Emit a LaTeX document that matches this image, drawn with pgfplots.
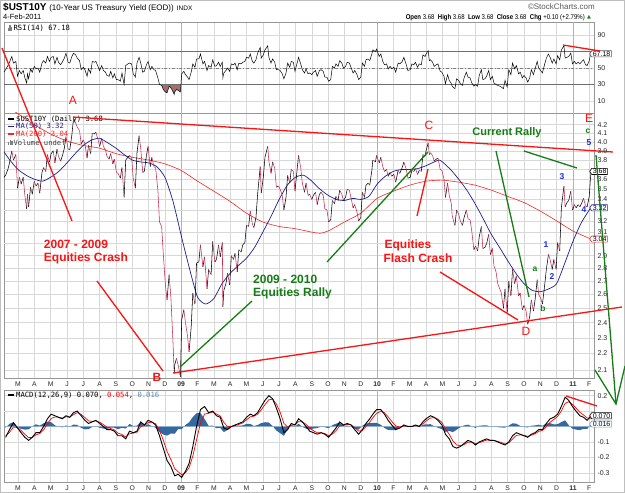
\documentclass[border=0pt]{standalone}
\usepackage{fontspec}
\setmainfont{Liberation Sans}
\newfontfamily\legfont{DejaVu Sans Mono}
\newfontfamily\symfont{DejaVu Sans}
\usepackage{pgfplots}
\pgfplotsset{compat=1.18}
\usepackage{pgfplotstable}
\usetikzlibrary{shapes.symbols}

\definecolor{pxred}{RGB}{200,40,80}
\definecolor{ma50c}{RGB}{30,30,140}
\definecolor{ma200c}{RGB}{240,40,40}
\definecolor{annred}{RGB}{250,20,20}
\definecolor{anngreen}{RGB}{20,125,20}
\definecolor{annblue}{RGB}{25,45,235}
\definecolor{gridc}{RGB}{216,216,216}
\definecolor{framec}{RGB}{150,150,150}
\definecolor{rsiref}{RGB}{110,110,110}
\definecolor{rsishade}{RGB}{165,110,110}
\definecolor{histc}{RGB}{52,104,160}
\definecolor{labc}{RGB}{40,40,40}

% 10-year yield, twice-weekly closes; d = 1 when the next move is down
\pgfplotstableread{
m y d
-0.86 3.62 0
-0.76 3.64 0
-0.62 3.70 0
-0.52 3.77 0
-0.38 3.90 1
-0.28 3.80 0
-0.13 3.86 1
-0.03 3.51 0
0.09 3.62 1
0.19 3.55 0
0.32 3.62 1
0.42 3.44 1
0.53 3.31 0
0.58 3.45 1
0.65 3.33 0
0.77 3.52 1
0.87 3.45 0
1.00 3.58 1
1.10 3.53 0
1.23 3.56 1
1.33 3.46 0
1.47 3.67 0
1.57 3.72 1
1.70 3.68 0
1.80 3.86 1
1.93 3.78 0
2.03 3.87 0
2.16 3.90 1
2.26 3.77 0
2.39 3.92 1
2.48 3.84 1
2.61 3.79 0
2.71 3.84 0
2.84 3.93 0
2.94 4.06 1
3.07 3.92 1
3.17 3.91 0
3.30 4.08 0
3.40 4.27 1
3.53 4.22 1
3.63 4.17 1
3.77 4.13 1
3.87 3.98 0
4.00 4.02 1
4.10 3.98 1
4.23 3.82 0
4.32 3.96 1
4.45 3.87 0
4.55 4.10 1
4.68 4.09 0
4.77 4.11 1
4.90 4.03 1
5.00 3.95 0
5.13 4.04 1
5.23 3.95 1
5.36 3.91 1
5.45 3.84 1
5.58 3.81 0
5.68 3.87 1
5.81 3.76 0
5.90 3.81 1
6.03 3.67 1
6.13 3.66 1
6.27 3.61 0
6.37 3.72 1
6.50 3.42 0
6.60 3.80 0
6.73 3.83 0
6.83 3.85 1
6.96 3.83 1
7.06 3.61 1
7.19 3.51 0
7.29 3.88 0
7.42 4.07 1
7.52 3.93 1
7.64 3.67 0
7.74 3.68 0
7.87 3.85 0
7.97 3.95 1
8.10 3.73 0
8.20 3.83 1
8.33 3.73 1
8.43 3.72 1
8.57 3.49 1
8.67 3.19 1
8.80 3.15 1
8.90 2.92 1
9.03 2.67 1
9.13 2.56 0
9.26 2.75 1
9.37 2.57 1
9.50 2.26 1
9.57 2.08 0
9.60 2.13 0
9.71 2.17 1
9.81 2.13 1
9.95 2.06 0
10.03 2.42 0
10.16 2.49 1
10.26 2.40 1
10.39 2.31 1
10.48 2.21 0
10.61 2.37 0
10.71 2.61 1
10.84 2.53 0
10.94 2.84 0
11.08 2.85 0
11.18 2.99 1
11.33 2.81 0
11.43 2.89 1
11.58 2.64 0
11.68 2.79 1
11.83 2.75 0
11.93 3.02 1
12.06 2.85 0
12.16 2.87 0
12.29 2.99 1
12.39 2.89 0
12.52 3.01 1
12.55 2.51 0
12.61 2.63 0
12.74 2.68 0
12.84 2.76 1
12.97 2.67 0
13.07 2.90 1
13.20 2.87 0
13.30 2.92 1
13.43 2.77 0
13.53 2.95 1
13.67 2.93 0
13.77 2.99 0
13.90 3.01 0
14.00 3.16 1
14.13 3.15 0
14.23 3.29 1
14.36 3.17 1
14.45 3.14 0
14.58 3.23 0
14.68 3.45 0
14.84 3.73 1
14.90 3.46 0
15.03 3.62 0
15.13 3.83 0
15.30 3.95 1
15.37 3.79 1
15.50 3.66 0
15.60 3.78 1
15.73 3.71 1
15.83 3.52 0
15.96 3.53 1
16.06 3.50 1
16.19 3.44 1
16.29 3.30 0
16.42 3.42 0
16.52 3.64 1
16.65 3.56 0
16.74 3.70 1
16.87 3.68 1
16.97 3.48 0
17.10 3.70 0
17.19 3.85 1
17.32 3.72 1
17.42 3.56 1
17.55 3.47 0
17.65 3.56 1
17.77 3.44 0
17.87 3.45 1
18.00 3.40 0
18.10 3.44 0
18.23 3.47 1
18.33 3.35 0
18.47 3.45 0
18.57 3.47 1
18.70 3.44 1
18.80 3.31 1
18.93 3.30 1
19.03 3.19 0
19.16 3.21 0
19.26 3.39 1
19.39 3.36 0
19.48 3.43 1
19.61 3.39 0
19.71 3.49 1
19.84 3.45 1
19.94 3.39 0
20.07 3.42 0
20.17 3.50 1
20.30 3.49 1
20.40 3.42 1
20.53 3.32 0
20.63 3.35 1
20.77 3.28 1
20.87 3.20 0
21.00 3.23 0
21.10 3.47 1
21.23 3.42 0
21.32 3.54 0
21.45 3.56 1
21.55 3.54 0
21.68 3.69 0
21.74 3.80 1
21.90 3.78 0
21.97 3.85 1
22.13 3.77 0
22.23 3.83 1
22.35 3.73 1
22.45 3.68 0
22.58 3.70 1
22.68 3.63 0
22.80 3.67 1
22.90 3.63 0
23.03 3.65 1
23.14 3.57 0
23.29 3.69 1
23.39 3.66 0
23.54 3.72 0
23.64 3.78 1
23.79 3.70 1
23.89 3.61 0
24.03 3.62 0
24.13 3.69 1
24.25 3.68 0
24.35 3.71 1
24.48 3.65 0
24.58 3.69 1
24.71 3.68 0
24.81 3.86 1
24.94 3.84 0
25.00 3.90 0
25.13 3.99 1
25.20 3.86 0
25.27 3.88 1
25.40 3.85 1
25.50 3.79 0
25.63 3.81 0
25.73 3.82 1
25.87 3.70 1
25.97 3.69 1
26.10 3.60 1
26.19 3.42 0
26.32 3.56 1
26.42 3.44 1
26.55 3.36 1
26.60 3.25 1
26.70 3.19 1
26.77 3.16 0
26.87 3.30 1
27.00 3.26 1
27.10 3.20 1
27.23 3.16 0
27.33 3.23 0
27.47 3.30 1
27.57 3.22 1
27.70 3.21 1
27.80 3.11 1
27.93 2.95 0
28.03 2.98 1
28.16 2.94 0
28.26 3.06 0
28.39 3.15 1
28.48 2.96 0
28.61 2.97 0
28.71 3.00 0
28.84 3.08 1
28.94 2.91 0
29.06 2.96 1
29.16 2.82 1
29.29 2.77 1
29.39 2.68 1
29.52 2.64 1
29.61 2.61 1
29.74 2.50 0
29.84 2.64 1
29.97 2.47 0
30.07 2.70 1
30.20 2.59 0
30.30 2.79 1
30.43 2.68 0
30.53 2.74 1
30.67 2.59 0
30.77 2.61 1
30.90 2.49 0
31.00 2.52 1
31.13 2.48 1
31.23 2.39 0
31.35 2.44 0
31.45 2.56 1
31.58 2.48 0
31.68 2.56 0
31.81 2.71 1
31.90 2.60 1
32.03 2.57 1
32.13 2.53 0
32.27 2.67 0
32.37 2.79 0
32.50 2.91 1
32.60 2.87 1
32.73 2.79 0
32.83 2.87 1
32.97 2.79 0
33.06 3.01 1
33.19 2.94 0
33.29 3.32 0
33.45 3.53 1
33.52 3.33 0
33.64 3.37 0
33.74 3.39 0
33.87 3.48 1
33.97 3.30 0
34.10 3.35 1
34.19 3.32 0
34.32 3.35 1
34.42 3.33 0
34.55 3.37 0
34.65 3.41 1
34.77 3.34 1
34.87 3.33 0
35.00 3.43 0
35.06 3.58 0
35.11 3.68 0
}\pricetab

% RSI(14)
\pgfplotstableread{
m r
-0.86 45
-0.76 48
-0.62 53
-0.52 57
-0.38 64
-0.28 56
-0.13 58
-0.03 40
0.09 47
0.19 43
0.32 47
0.42 38
0.53 32
0.58 43
0.65 37
0.77 49
0.87 45
1.00 52
1.10 49
1.23 50
1.33 45
1.47 56
1.57 59
1.70 56
1.80 64
1.93 58
2.03 63
2.16 64
2.26 55
2.39 63
2.48 57
2.61 54
2.71 57
2.84 62
2.94 68
3.07 57
3.17 56
3.30 64
3.40 68
3.53 66
3.63 62
3.77 59
3.87 48
4.00 51
4.10 48
4.23 40
4.32 49
4.45 44
4.55 58
4.68 57
4.77 58
4.90 52
5.00 47
5.13 53
5.23 47
5.36 45
5.45 41
5.58 40
5.68 46
5.81 38
5.90 43
6.03 36
6.13 36
6.27 34
6.37 44
6.50 30
6.60 53
6.73 55
6.83 56
6.96 55
7.06 43
7.19 39
7.29 56
7.42 63
7.52 56
7.64 45
7.74 46
7.87 54
7.97 58
8.10 48
8.20 52
8.33 48
8.43 47
8.57 38
8.67 30
8.80 29
8.90 24
9.03 21
9.13 20
9.26 28
9.37 26
9.50 21
9.57 18
9.60 21
9.71 24
9.81 23
9.95 21
10.03 43
10.16 46
10.26 42
10.39 39
10.48 36
10.61 45
10.71 55
10.84 51
10.94 61
11.08 61
11.18 67
11.33 55
11.43 58
11.58 47
11.68 53
11.83 51
11.93 60
12.06 52
12.16 53
12.29 57
12.39 52
12.52 57
12.55 38
12.61 44
12.74 47
12.84 50
12.97 46
13.07 55
13.20 54
13.30 56
13.43 48
13.53 56
13.67 55
13.77 57
13.90 58
14.00 63
14.13 62
14.23 67
14.36 58
14.45 56
14.58 60
14.68 68
14.84 75
14.90 62
15.03 66
15.13 72
15.30 77
15.37 63
15.50 56
15.60 61
15.73 57
15.83 48
15.96 48
16.06 47
16.19 43
16.29 37
16.42 44
16.52 56
16.65 51
16.74 58
16.87 57
16.97 46
17.10 56
17.19 63
17.32 55
17.42 48
17.55 44
17.65 49
17.77 43
17.87 44
18.00 42
18.10 45
18.23 47
18.33 40
18.47 47
18.57 48
18.70 46
18.80 39
18.93 39
19.03 34
19.16 36
19.26 52
19.39 50
19.48 55
19.61 52
19.71 59
19.84 56
19.94 50
20.07 52
20.17 57
20.30 56
20.40 51
20.53 44
20.63 47
20.77 42
20.87 36
21.00 39
21.10 56
21.23 52
21.32 60
21.45 61
21.55 59
21.68 67
21.74 72
21.90 70
21.97 73
22.13 64
22.23 67
22.35 58
22.45 54
22.58 55
22.68 49
22.80 52
22.90 49
23.03 51
23.14 45
23.29 56
23.39 55
23.54 58
23.64 63
23.79 54
23.89 47
24.03 48
24.13 55
24.25 54
24.35 57
24.48 51
24.58 55
24.71 54
24.81 66
24.94 64
25.00 67
25.13 71
25.20 59
25.27 60
25.40 57
25.50 52
25.63 54
25.73 55
25.87 46
25.97 45
26.10 40
26.19 31
26.32 42
26.42 35
26.55 31
26.60 28
26.70 26
26.77 25
26.87 37
27.00 35
27.10 31
27.23 29
27.33 38
27.47 45
27.57 39
27.70 38
27.80 32
27.93 28
28.03 30
28.16 28
28.26 41
28.39 48
28.48 36
28.61 37
28.71 40
28.84 47
28.94 36
29.06 40
29.16 32
29.29 30
29.39 29
29.52 28
29.61 27
29.74 25
29.84 35
29.97 27
30.07 48
30.20 42
30.30 56
30.43 49
30.53 53
30.67 43
30.77 45
30.90 38
31.00 41
31.13 38
31.23 33
31.35 38
31.45 48
31.58 42
31.68 49
31.81 58
31.90 50
32.03 47
32.13 44
32.27 55
32.37 62
32.50 67
32.60 63
32.73 56
32.83 61
32.97 55
33.06 65
33.19 60
33.29 72
33.45 77
33.52 62
33.64 63
33.74 64
33.87 68
33.97 55
34.10 58
34.19 55
34.32 57
34.42 55
34.55 58
34.65 60
34.77 54
34.87 53
35.00 59
35.06 65
35.11 67.18
}\rsitab

% MACD(12,26,9), weekly: MACD line, signal line, histogram
\pgfplotstableread{
m macd sig hist
-0.76 -0.070 -0.061 -0.009
-0.52 -0.020 -0.038 0.018
-0.28 0.025 -0.003 0.028
-0.03 -0.010 -0.007 -0.003
0.19 -0.040 -0.025 -0.015
0.42 -0.070 -0.050 -0.020
0.65 -0.090 -0.072 -0.018
0.87 -0.070 -0.071 0.001
1.10 -0.040 -0.054 0.014
1.33 -0.040 -0.046 0.006
1.57 0.000 -0.021 0.021
1.80 0.050 0.018 0.032
2.03 0.080 0.052 0.028
2.26 0.070 0.062 0.008
2.48 0.060 0.061 -0.001
2.71 0.050 0.055 -0.005
2.94 0.070 0.063 0.007
3.17 0.060 0.061 -0.001
3.40 0.090 0.077 0.013
3.63 0.100 0.090 0.010
3.87 0.070 0.079 -0.009
4.10 0.040 0.058 -0.018
4.32 0.020 0.037 -0.017
4.55 0.030 0.033 -0.003
4.77 0.040 0.037 0.003
5.00 0.020 0.028 -0.008
5.23 0.000 0.013 -0.013
5.45 -0.020 -0.005 -0.015
5.68 -0.020 -0.013 -0.007
5.90 -0.030 -0.022 -0.008
6.13 -0.060 -0.043 -0.017
6.37 -0.060 -0.052 -0.008
6.60 -0.080 -0.067 -0.013
6.83 -0.030 -0.047 0.017
7.06 -0.040 -0.043 0.003
7.29 -0.030 -0.036 0.006
7.52 0.030 0.000 0.030
7.74 0.010 0.006 0.004
7.97 0.040 0.025 0.015
8.20 0.030 0.028 0.002
8.43 0.010 0.018 -0.008
8.67 -0.060 -0.025 -0.035
8.90 -0.140 -0.088 -0.052
9.13 -0.220 -0.161 -0.059
9.37 -0.260 -0.215 -0.045
9.60 -0.320 -0.273 -0.047
9.81 -0.310 -0.293 -0.017
10.03 -0.330 -0.313 -0.017
10.26 -0.290 -0.300 0.010
10.48 -0.240 -0.267 0.027
10.71 -0.130 -0.192 0.062
10.94 0.000 -0.086 0.086
11.18 0.110 0.022 0.088
11.43 0.130 0.081 0.049
11.68 0.090 0.086 0.004
11.93 0.100 0.094 0.006
12.16 0.070 0.081 -0.011
12.39 0.060 0.069 -0.009
12.61 -0.010 0.026 -0.036
12.84 -0.020 0.001 -0.021
13.07 0.000 0.000 0.000
13.30 0.010 0.006 0.004
13.53 0.020 0.014 0.006
13.77 0.030 0.023 0.007
14.00 0.060 0.043 0.017
14.23 0.080 0.063 0.017
14.45 0.070 0.067 0.003
14.68 0.090 0.080 0.010
14.90 0.130 0.108 0.022
15.13 0.170 0.142 0.028
15.37 0.200 0.174 0.026
15.60 0.180 0.177 0.003
15.83 0.120 0.146 -0.026
16.06 0.050 0.093 -0.043
16.29 -0.040 0.020 -0.060
16.52 -0.020 -0.002 -0.018
16.74 0.020 0.010 0.010
16.97 0.010 0.010 0.000
17.19 0.050 0.032 0.018
17.42 0.030 0.031 -0.001
17.65 0.000 0.014 -0.014
17.87 -0.030 -0.010 -0.020
18.10 -0.040 -0.027 -0.013
18.33 -0.050 -0.040 -0.010
18.57 -0.040 -0.040 0.000
18.80 -0.050 -0.046 -0.004
19.03 -0.070 -0.059 -0.011
19.26 -0.040 -0.049 0.009
19.48 -0.010 -0.028 0.018
19.71 0.030 0.004 0.026
19.94 0.010 0.007 0.003
20.17 0.020 0.014 0.006
20.40 0.010 0.012 -0.002
20.63 -0.020 -0.006 -0.014
20.87 -0.050 -0.030 -0.020
21.10 -0.020 -0.025 0.005
21.32 0.020 0.000 0.020
21.55 0.050 0.028 0.022
21.74 0.080 0.057 0.023
21.97 0.110 0.086 0.024
22.23 0.110 0.099 0.011
22.45 0.080 0.089 -0.009
22.68 0.040 0.062 -0.022
22.90 0.010 0.033 -0.023
23.14 -0.020 0.004 -0.024
23.39 -0.010 -0.004 -0.006
23.64 0.010 0.004 0.006
23.89 0.000 0.002 -0.002
24.13 0.000 0.001 -0.001
24.35 0.010 0.006 0.004
24.58 0.000 0.003 -0.003
24.81 0.030 0.018 0.012
25.00 0.050 0.036 0.014
25.27 0.070 0.055 0.015
25.50 0.060 0.058 0.002
25.73 0.040 0.048 -0.008
25.97 0.010 0.027 -0.017
26.19 -0.050 -0.015 -0.035
26.42 -0.080 -0.051 -0.029
26.65 -0.130 -0.094 -0.036
26.87 -0.140 -0.119 -0.021
27.10 -0.130 -0.125 -0.005
27.33 -0.110 -0.117 0.007
27.57 -0.090 -0.102 0.012
27.80 -0.100 -0.101 0.001
28.03 -0.120 -0.111 -0.009
28.26 -0.100 -0.105 0.005
28.48 -0.090 -0.097 0.007
28.71 -0.080 -0.088 0.008
28.94 -0.090 -0.089 -0.001
29.16 -0.090 -0.090 0.000
29.39 -0.100 -0.096 -0.004
29.61 -0.110 -0.104 -0.006
29.84 -0.120 -0.113 -0.007
30.07 -0.100 -0.106 0.006
30.30 -0.060 -0.081 0.021
30.53 -0.040 -0.058 0.018
30.77 -0.050 -0.054 0.004
31.00 -0.060 -0.057 -0.003
31.23 -0.070 -0.064 -0.006
31.45 -0.050 -0.056 0.006
31.68 -0.040 -0.047 0.007
31.90 -0.020 -0.032 0.012
32.13 -0.020 -0.025 0.005
32.37 0.020 0.000 0.020
32.60 0.050 0.028 0.022
32.83 0.060 0.046 0.014
33.06 0.080 0.065 0.015
33.29 0.130 0.101 0.029
33.52 0.190 0.150 0.040
33.74 0.170 0.161 0.009
33.97 0.130 0.144 -0.014
34.19 0.100 0.120 -0.020
34.42 0.070 0.093 -0.023
34.65 0.060 0.075 -0.015
34.87 0.040 0.056 -0.016
35.11 0.070 0.054 0.016
}\macdtab

% 50-day moving average
\pgfplotstableread{
m v
-0.90 3.90
-0.50 3.80
0.00 3.70
0.50 3.64
1.00 3.60
1.50 3.58
2.00 3.62
2.50 3.68
3.00 3.77
3.50 3.87
4.00 3.96
4.50 4.02
5.00 4.04
5.50 3.99
6.00 3.93
6.50 3.86
7.00 3.80
7.50 3.78
8.00 3.77
8.50 3.73
9.00 3.62
9.50 3.38
10.00 3.07
10.50 2.80
11.00 2.58
11.50 2.53
12.00 2.57
12.50 2.68
13.00 2.76
13.50 2.82
14.00 2.88
14.50 2.97
15.00 3.10
15.50 3.24
16.00 3.40
16.50 3.54
17.00 3.62
17.50 3.64
18.00 3.58
18.50 3.50
19.00 3.44
19.50 3.40
20.00 3.39
20.50 3.41
21.00 3.40
21.50 3.43
22.00 3.55
22.50 3.63
23.00 3.68
23.50 3.70
24.00 3.70
24.50 3.71
25.00 3.74
25.50 3.78
25.80 3.80
26.00 3.78
26.50 3.70
27.00 3.60
27.50 3.49
28.00 3.36
28.50 3.22
29.00 3.08
29.50 2.97
30.00 2.86
30.50 2.76
31.00 2.68
31.50 2.63
32.00 2.62
32.50 2.64
33.00 2.68
33.50 2.84
34.00 3.02
34.50 3.18
35.00 3.30
35.11 3.32
}\mafifty

% 200-day moving average
\pgfplotstableread{
m v
-0.90 4.46
0 4.33
1 4.20
2 4.09
3 4.01
4 3.96
5 3.93
6 3.87
7 3.83
8 3.80
9 3.76
10 3.69
11 3.58
12 3.48
13 3.38
14 3.27
15 3.19
16 3.15
17 3.13
18 3.10
18.5 3.09
19 3.11
20 3.19
21 3.27
22 3.41
23 3.48
24 3.54
25 3.58
26 3.59
27 3.57
28 3.54
29 3.49
30 3.43
31 3.37
32 3.29
33 3.20
34 3.11
35.11 3.04
}\matwohundred

\newcommand\annfont{\fontsize{12}{13}\selectfont\bfseries}
\newcommand\letfont{\fontsize{12}{13}\selectfont}
\newcommand\wavefont{\fontsize{8.5}{9}\selectfont\bfseries}
\newcommand\legsz{\legfont\fontsize{7.2}{7.5}\selectfont}

\tikzset{valbox/.style={signal, signal to=west, signal pointer angle=110,
  draw=#1, fill=white, line width=0.6pt, inner xsep=1pt, inner ysep=0.6pt,
  font=\fontsize{7}{7}\selectfont, anchor=west, text=black}}

\pgfplotsset{
  panel/.style={scale only axis, width=590pt, anchor=north west,
    xmin=-0.858, xmax=35.29,
    axis line style={draw=framec, line width=0.6pt},
    grid=major, major grid style={draw=gridc, line width=0.45pt},
    major tick length=0pt, xtick={0,...,35},
    extra x ticks={10,22,34}, extra x tick labels={},
    extra x tick style={grid=major, major grid style={draw=gray!60, line width=0.6pt}},
    extra y tick labels={},
    extra y tick style={grid=major, major grid style={draw=gridc, line width=0.45pt}},
    yticklabel pos=right,
    y tick label style={font=\fontsize{7}{8}\selectfont\color{labc}, anchor=west},
    clip mode=individual,
    /pgf/number format/assume math mode=true},
  months/.style={xticklabels={M,A,M,J,J,A,S,O,N,D,\textbf{09},F,M,A,M,J,J,A,S,O,N,D,\textbf{10},F,M,A,M,J,J,A,S,O,N,D,\textbf{11},F},
    x tick label style={font=\fontsize{6.8}{7}\selectfont\color{labc}, anchor=base, yshift=#1}},
}

\begin{document}
\begin{tikzpicture}
\useasboundingbox (0pt,0pt) rectangle (625pt,-493pt);
\draw[gray!50, line width=0.6pt] (0.3pt,-0.3pt) rectangle (624.7pt,-492.7pt);

% ---------------- RSI panel ----------------
\begin{axis}[panel, at={(4pt,-22pt)}, height=91pt,
  ymin=-4.5, ymax=105.8, ytick={10,30,50,90}, extra y ticks={70}, xticklabels={}]
% oversold stretch below 30, late 2008
\addplot[fill=rsishade, draw=none] coordinates {(8.69,30) (8.80,29) (8.90,24) (9.03,21) (9.13,20) (9.26,28) (9.37,26) (9.50,21) (9.57,18) (9.60,21) (9.71,24) (9.81,23) (9.95,21) (9.98,30)} -- cycle;
\addplot[draw=rsiref, line width=0.6pt] coordinates {(-1,30) (36,30)};
\addplot[draw=rsiref, line width=0.6pt] coordinates {(-1,70) (36,70)};
\addplot[draw=gray, dash dot, line width=0.5pt] coordinates {(-1,50) (36,50)};
\addplot[black, line width=0.5pt] table[x=m, y=r] {\rsitab};
\node[valbox=gray!70!black] at (axis cs:35.0,67.18) {67.18};
\end{axis}

% ---------------- price panel ----------------
\begin{axis}[panel, months=-9pt, at={(4pt,-113pt)}, height=265pt,
  ymode=log, ymin=2.053, ymax=4.34,
  ytick={2.1,2.2,2.3,2.4,2.5,2.6,2.7,2.8,2.9,3.1,3.2,3.4,3.5,3.6,3.8,3.9,4.0,4.1,4.2},
  extra y ticks={3.0,3.3,3.7},
  yticklabel={\pgfmathparse{exp(\tick)}\pgfmathprintnumber[fixed,fixed zerofill,precision=1]{\pgfmathresult}}]
\addplot[ma200c, line width=0.6pt, smooth, tension=0.4] table[x=m, y=v] {\matwohundred};
\addplot[ma50c, line width=0.7pt, smooth, tension=0.4] table[x=m, y=v] {\mafifty};
\addplot[mesh, shader=flat corner, point meta=explicit,
  colormap={updown}{color=(black) color=(pxred)},
  point meta min=0, point meta max=1, line width=0.55pt]
  table[x=m, y=y, meta=d] {\pricetab};
\node[valbox=black] at (axis cs:35.0,3.68) {3.68};
\node[valbox=ma50c] at (axis cs:35.0,3.32) {3.32};
\node[valbox=ma200c] at (axis cs:35.0,3.04) {3.04};
\end{axis}

% ---------------- MACD panel ----------------
\begin{axis}[panel, months=-8.5pt, at={(4pt,-390pt)}, height=92pt,
  ymin=-0.36, ymax=0.237, ytick={-0.3,-0.2,-0.1,0.2}, extra y ticks={0,0.1},
  yticklabel={\pgfmathprintnumber[fixed,fixed zerofill,precision=1]{\tick}}]
\addplot[fill=histc, draw=none] table[x=m, y=hist] {\macdtab} \closedcycle;
\addplot[histc!55, line width=0.5pt] coordinates {(-1,0) (36,0)};
\addplot[red, line width=0.7pt] table[x=m, y=sig] {\macdtab};
\addplot[black, line width=0.9pt] table[x=m, y=macd] {\macdtab};
\node[valbox=black] at (axis cs:35.0,0.070) {0.070};
\node[valbox=histc!70] at (axis cs:35.0,0.016) {0.016};
\end{axis}

% ---------------- header, legends and annotations (pixel frame) ----------------
\begin{axis}[at={(0pt,0pt)}, anchor=north west, scale only axis,
  width=625pt, height=493pt, xmin=0, xmax=625, ymin=0, ymax=493,
  y dir=reverse, hide axis, clip=false]
% header
\node[anchor=base west, inner sep=0] at (axis cs:3,10.8)
  {{\fontsize{10}{10}\selectfont\bfseries \$UST10Y} {\fontsize{8}{8}\selectfont (10-Year US Treasury Yield (EOD))}\hspace{3pt}{\fontsize{6.5}{7}\selectfont INDX}};
\node[anchor=base west, inner sep=0] at (axis cs:3,19.8) {\fontsize{7.5}{8}\selectfont 4-Feb-2011};
\node[anchor=base east, inner sep=0, text=black!65] at (axis cs:595,9) {\fontsize{8}{8}\selectfont \textcopyright StockCharts.com};
\node[anchor=base east, inner sep=0] at (axis cs:585,19) {\scalebox{0.86}[1]{\fontsize{7}{8}\selectfont
  \textbf{Open} 3.68\ \ \textbf{High} 3.68\ \ \textbf{Low} 3.68\ \ \textbf{Close} 3.68\ \ \textbf{Chg} +0.10 (+2.79\%)}};
\node[anchor=base west, inner sep=0, text=anngreen] at (axis cs:587,18) {\symfont\fontsize{5}{5}\selectfont ▲};

% panel legends
\node[anchor=west, inner sep=0] at (axis cs:8,28.5)
  {\textcolor{gray}{\rule{1.3pt}{3pt}\rule{1.3pt}{5.5pt}\rule{1.3pt}{4pt}}\hspace{1.5pt}\legsz RSI(14) 67.18};
\node[anchor=west, inner sep=0] at (axis cs:8,119.5) {\rule[2pt]{6pt}{1.1pt}\hspace{2pt}\legsz \$UST10Y (Daily) 3.68};
\node[anchor=west, inner sep=0, text=ma50c] at (axis cs:8,126.5) {\rule[2pt]{6pt}{1.1pt}\hspace{2pt}\legsz MA(50) 3.32};
\node[anchor=west, inner sep=0, text=ma200c] at (axis cs:8,134.3) {\rule[2pt]{6pt}{1.1pt}\hspace{2pt}\legsz MA(200) 3.04};
\node[anchor=west, inner sep=0, text=black!75] at (axis cs:8,142.5)
  {\textcolor{gray}{\rule{1.2pt}{3pt}\hspace{0.4pt}\rule{1.2pt}{5pt}\hspace{0.4pt}\rule{1.2pt}{4pt}}\hspace{1pt}\legsz Volume undef};
\node[anchor=west, inner sep=0] at (axis cs:8,395.5)
  {\rule[2pt]{6pt}{1.3pt}\hspace{2pt}\legsz MACD(12,26,9) 0.070, \textcolor{red}{0.054}, \textcolor{histc!80}{0.016}};

% red trend lines
\addplot[annred, line width=1.3pt] coordinates {(2,48) (72,221)};
\addplot[annred, line width=1.3pt] coordinates {(73,117) (613,152)};
\addplot[annred, line width=1.3pt] coordinates {(417,216) (428,169)};
\addplot[annred, line width=1.3pt] coordinates {(173,373) (622,307)};
\addplot[annred, line width=1.3pt] coordinates {(97,281) (163,371)};
\addplot[annred, line width=1.3pt] coordinates {(440,272) (518,320)};
\addplot[annred, line width=1.3pt] coordinates {(563,45) (600,51)};
\addplot[annred, line width=1.3pt] coordinates {(566,396) (597,406)};
% green trend lines
\addplot[anngreen, line width=1.3pt] coordinates {(180,367) (252,301)};
\addplot[anngreen, line width=1.3pt] coordinates {(327,262) (428,152)};
\addplot[anngreen, line width=1.3pt] coordinates {(496,151) (529,297)};
\addplot[anngreen, line width=1.3pt] coordinates {(524,151) (577,168)};
\addplot[anngreen, line width=1.3pt] coordinates {(596,155) (616,404)};
\addplot[anngreen, line width=1.3pt] coordinates {(595,370) (616,404) (625,366)};

% wave letters and notes
\node[text=annred] at (axis cs:73,100) {\letfont A};
\node[text=annred] at (axis cs:157,377) {\letfont\bfseries B};
\node[text=annred] at (axis cs:429,125) {\letfont C};
\node[text=annred] at (axis cs:526,331) {\letfont D};
\node[text=annred] at (axis cs:589,118) {\letfont E};
\node[text=annred] at (axis cs:76,244) {\annfont 2007 - 2009};
\node[text=annred] at (axis cs:86,258.5) {\annfont Equities Crash};
\node[text=annred] at (axis cs:408,245) {\annfont Equities};
\node[text=annred] at (axis cs:418,258.5) {\annfont Flash Crash};
\node[text=anngreen, anchor=west, inner sep=0] at (axis cs:253,279) {\annfont 2009 - 2010};
\node[text=anngreen, anchor=west, inner sep=0] at (axis cs:253,293.5) {\annfont Equities Rally};
\node[text=anngreen] at (axis cs:507,133) {\fontsize{11}{12}\selectfont\bfseries Current Rally};
\node[text=anngreen] at (axis cs:535,269) {\wavefont a};
\node[text=anngreen] at (axis cs:543,308) {\wavefont b};
\node[text=anngreen] at (axis cs:588,131) {\wavefont c};
\node[text=annblue] at (axis cs:546,245) {\wavefont 1};
\node[text=annblue] at (axis cs:552,277) {\wavefont 2};
\node[text=annblue] at (axis cs:562,177) {\wavefont 3};
\node[text=annblue] at (axis cs:584,210) {\wavefont 4};
\node[text=annblue] at (axis cs:589,143) {\wavefont 5};
\end{axis}
\end{tikzpicture}
\end{document}
